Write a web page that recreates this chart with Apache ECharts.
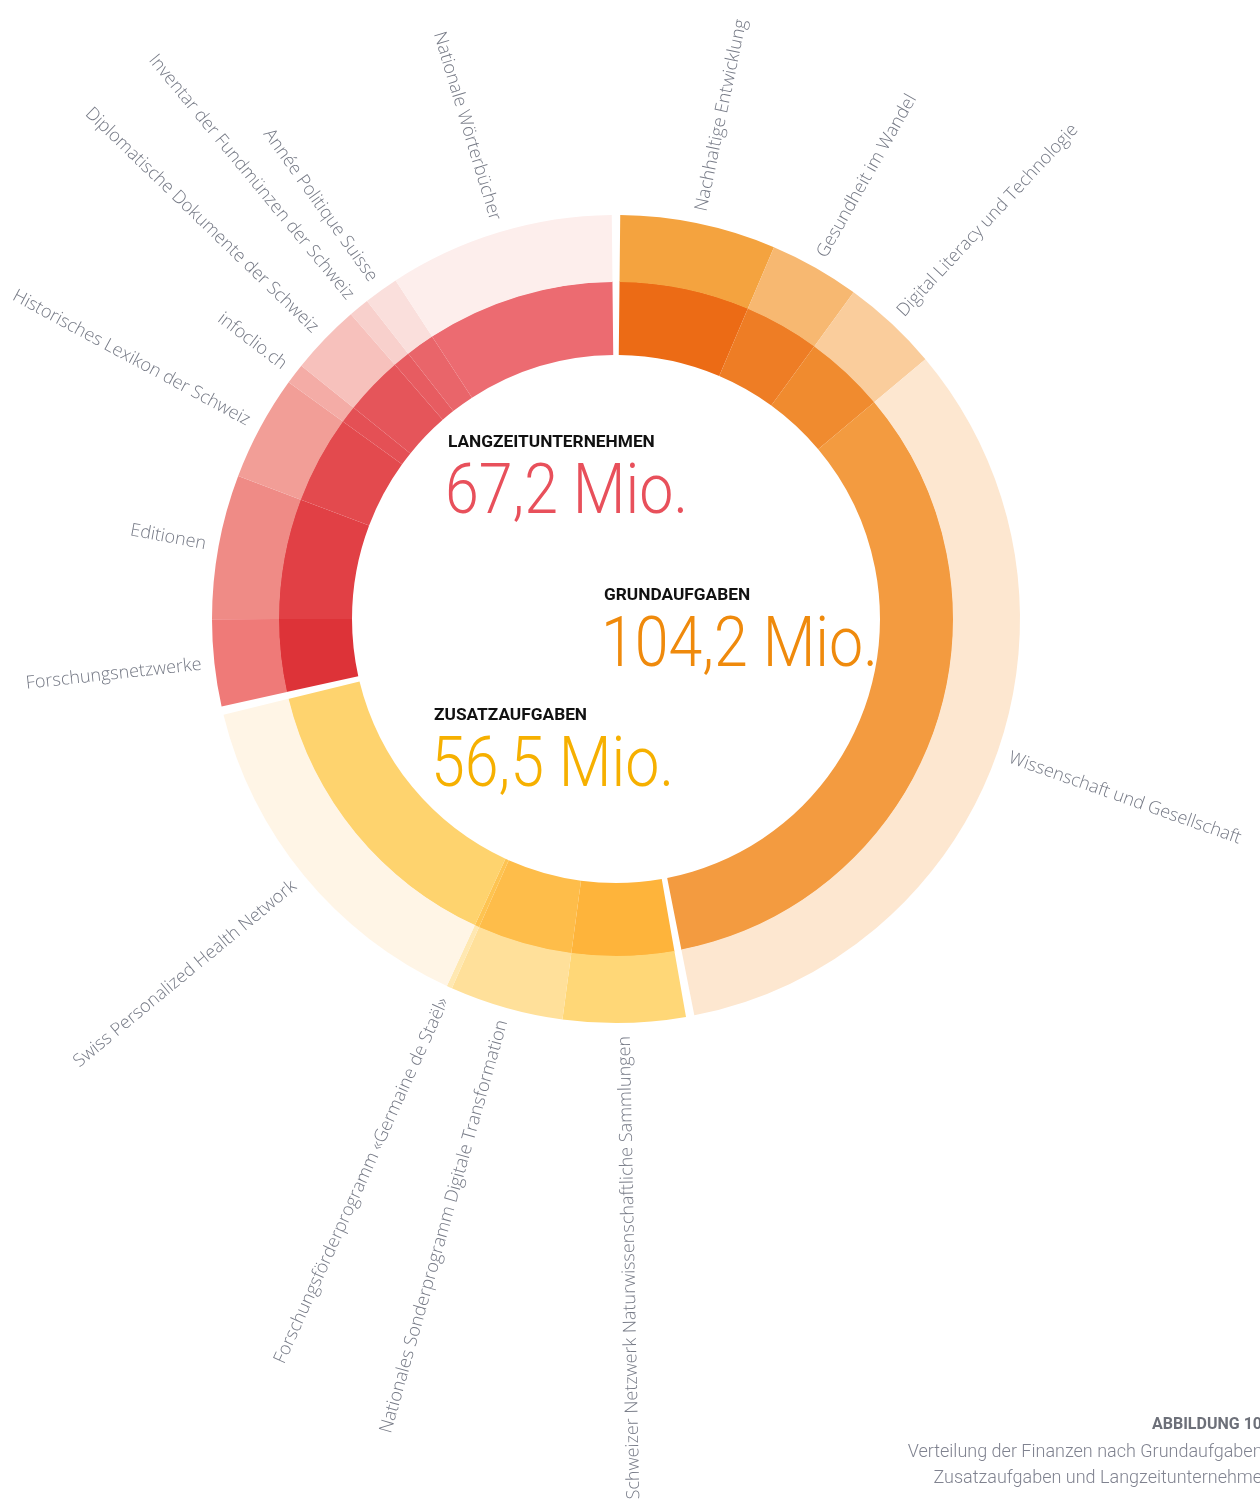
<!DOCTYPE html>
<html>
<head>
<meta charset="utf-8">
<script src="https://cdn.jsdelivr.net/npm/echarts@6/dist/echarts.min.js"></script>
<style>
  html, body { margin: 0; padding: 0; background: #fff; }
  #chart { width: 1260px; height: 1512px; }
</style>
</head>
<body>
<div id="chart"></div>
<script>
// groups (Mio. CHF), totals as printed in the centre
const groupNames = ['GRUNDAUFGABEN', 'ZUSATZAUFGABEN', 'LANGZEITUNTERNEHMEN'];
const groupTotals = [104.2, 56.5, 67.2];
const groupLabels = ['104,2 Mio.', '56,5 Mio.', '67,2 Mio.'];

// slice values
const grundNames = ['Nachhaltige Entwicklung', 'Gesundheit im Wandel', 'Digital Literacy und Technologie', 'Wissenschaft und Gesellschaft'];
const grundValues = [14.3, 8.3, 8.9, 75.8];

const zusatzNames = ['Schweizer Netzwerk Naturwissenschaftliche Sammlungen', 'Nationales Sonderprogramm Digitale Transformation', 'Forschungsförderprogramm «Germaine de Staël»', 'Swiss Personalized Health Network'];
const zusatzValues = [11.3, 10.5, 0.5, 33.1];

const langNames = ['Forschungsnetzwerke', 'Editionen', 'Historisches Lexikon der Schweiz', 'infoclio.ch', 'Diplomatische Dokumente der Schweiz', 'Inventar der Fundmünzen der Schweiz', 'Année Politique Suisse', 'Nationale Wörterbücher'];
const langValues = [8.0, 13.3, 9.7, 1.9, 6.5, 1.9, 3.2, 20.8];

// styling
const CX = 616, CY = 619;
const INNER = [264, 337.5];
const OUTER = [337, 404];
const GAP = 1.2; // degrees between groups

const innerColors = [
  ['#ec6b15', '#ee7d25', '#f08b2f', '#f39b40'],
  ['#feb43b', '#febd4a', '#fec452', '#fed36e'],
  ['#dd3338', '#e14045', '#e34a4e', '#e45055', '#e5555a', '#e75c61', '#e9656a', '#ec6b71']
];
const outerColors = [
  ['#f4a33f', '#f7b871', '#facd9c', '#fde7d0'],
  ['#ffd777', '#ffe09a', '#ffe8b2', '#fff5e6'],
  ['#ef7a78', '#ef8b86', '#f29e97', '#f4aca6', '#f7c1bc', '#f8d0cc', '#fadfdc', '#fdeeec']
];
const subNames = [grundNames, zusatzNames, langNames];
const subValues = [grundValues, zusatzValues, langValues];

const sums = subValues.map(vs => vs.reduce((a, b) => a + b, 0));
const grand = sums.reduce((a, b) => a + b, 0);
const labelFont = { color: '#767a86', fontSize: 18, fontFamily: '"Open Sans", sans-serif', fontWeight: 300 };

const series = [];
let cum = 0;
sums.forEach((sum, g) => {
  const a0 = cum / grand * 360 + GAP / 2;
  const a1 = (cum + sum) / grand * 360 - GAP / 2;
  cum += sum;
  const vals = subValues[g];
  // mid angle of each slice, clockwise from top
  let c = 0;
  const mids = vals.map(v => { const m = a0 + (c + v / 2) / sum * (a1 - a0); c += v; return m; });

  const base = {
    type: 'pie',
    center: [CX, CY],
    startAngle: 90 - a0,
    endAngle: 90 - a1,
    clockwise: true,
    animation: false,
    silent: true,
    emphasis: { disabled: true },
    avoidLabelOverlap: false
  };
  series.push(Object.assign({}, base, {
    radius: INNER,
    label: { show: false },
    labelLine: { show: false },
    data: vals.map((v, i) => ({ name: subNames[g][i], value: v, itemStyle: { color: innerColors[g][i] } }))
  }));
  series.push(Object.assign({}, base, {
    radius: OUTER,
    label: Object.assign({ show: true, position: 'outside', rotate: 'radial', distanceToLabelLine: 0, formatter: '{b}' }, labelFont),
    labelLine: { show: false, length: 13, length2: 0 },
    labelLayout: function (p) {
      const t = mids[p.dataIndex];
      // near the bottom the text reads towards the centre
      if (t > 160 && t < 180) {
        const r = t * Math.PI / 180;
        return { rotate: Math.atan2(-Math.cos(r), -Math.sin(r)) * 180 / Math.PI, align: 'right' };
      }
      return {};
    },
    data: vals.map((v, i) => ({ name: subNames[g][i], value: v, itemStyle: { color: outerColors[g][i] } }))
  }));
});

const headFont = 'bold 16px Roboto, sans-serif';
const bigFont = '300 70px Roboto, sans-serif';
function centerText(x, y, title, value, color) {
  return [
    { type: 'text', x: x, y: y, scaleX: 1.08, style: { text: title, font: headFont, fill: '#111', align: 'left', verticalAlign: 'middle' } },
    { type: 'text', x: x - 3, y: y + 52, scaleX: 0.87, style: { text: value, font: bigFont, fill: color, align: 'left', verticalAlign: 'middle' } }
  ];
}

const chart = echarts.init(document.getElementById('chart'), null, { renderer: 'canvas' });
chart.setOption({
  backgroundColor: '#ffffff',
  series: series,
  graphic: [].concat(
    centerText(448, 443, groupNames[2], groupLabels[2], '#e8505b'),
    centerText(604, 596, groupNames[0], groupLabels[0], '#ef8a0c'),
    centerText(434, 716, groupNames[1], groupLabels[1], '#f6b000'),
    [
      { type: 'text', x: 1262, y: 1425, style: { text: 'ABBILDUNG 10', font: 'bold 16px Roboto, sans-serif', fill: '#6d7079', align: 'right', verticalAlign: 'middle' } },
      { type: 'text', x: 1266, y: 1452, style: { text: 'Verteilung der Finanzen nach Grundaufgaben,', font: '300 18px Roboto, sans-serif', fill: '#808390', align: 'right', verticalAlign: 'middle' } },
      { type: 'text', x: 1272, y: 1478, style: { text: 'Zusatzaufgaben und Langzeitunternehmen', font: '300 18px Roboto, sans-serif', fill: '#808390', align: 'right', verticalAlign: 'middle' } }
    ]
  )
});
</script>
</body>
</html>
